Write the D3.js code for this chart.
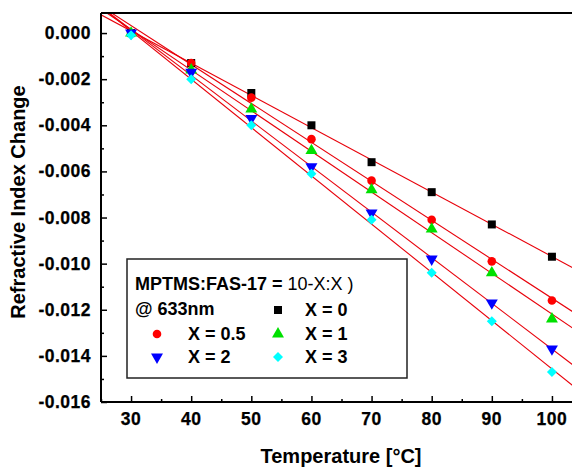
<!DOCTYPE html>
<html>
<head>
<meta charset="utf-8">
<script src="https://cdn.jsdelivr.net/npm/d3@7"></script>
<style>
  body { margin: 0; background: #fff; }
  svg { display: block; font-family: "Liberation Sans", Arial, sans-serif; }
  .tick-label { font-weight: bold; font-size: 17.5px; letter-spacing: 0.5px; stroke: #000; stroke-width: 0.25px; }
  .title { font-weight: bold; font-size: 20px; }
  .leg { font-weight: bold; font-size: 18px; }
</style>
</head>
<body>
<div class="container"></div>
<script>
var temps = [30, 40, 50, 60, 70, 80, 90, 100];

var seriesNames = ['X = 0', 'X = 0.5', 'X = 1', 'X = 2', 'X = 3'];
var seriesColors = ['#000000', '#ff0000', '#00e000', '#0000ff', '#00ffff'];
var seriesSymbols = ['square', 'circle', 'triangle', 'triangleDown', 'diamond'];

var x0Values = [0, -0.0013, -0.0026, -0.0040, -0.0056, -0.0069, -0.0083, -0.0097];
var x05Values = [0, -0.0013, -0.0028, -0.0046, -0.0064, -0.0081, -0.0099, -0.0116];
var x1Values = [0, -0.0016, -0.0033, -0.0051, -0.0068, -0.0085, -0.0104, -0.0124];
var x2Values = [0, -0.0017, -0.0037, -0.0058, -0.0078, -0.0098, -0.0117, -0.0137];
var x3Values = [-0.0001, -0.0020, -0.0040, -0.0061, -0.0081, -0.0104, -0.0125, -0.0147];

var allValues = [x0Values, x05Values, x1Values, x2Values, x3Values];

var xTicks = [30, 40, 50, 60, 70, 80, 90, 100];
var yTicks = [0, -0.002, -0.004, -0.006, -0.008, -0.010, -0.012, -0.014, -0.016];

(function () {
	var width = 572,
		height = 468,
		plotLeft = 101,
		plotTop = 13,
		plotRight = 582,
		plotBottom = 402;

	var svg = d3.select('.container')
		.append('svg')
		.attr('width', width)
		.attr('height', height);

	var x = d3.scaleLinear().domain([25, 105]).range([plotLeft, plotRight]);
	var y = d3.scaleLinear().domain([-0.016, 0.00087]).range([plotBottom, plotTop]);

	svg.append('clipPath')
		.attr('id', 'plot-clip')
		.append('rect')
		.attr('x', plotLeft)
		.attr('y', plotTop)
		.attr('width', plotRight - plotLeft)
		.attr('height', plotBottom - plotTop);

	// least squares fit for each series
	function fit(xs, ys) {
		var mx = d3.mean(xs),
			my = d3.mean(ys),
			num = 0,
			den = 0;

		xs.forEach(function (v, i) {
			num += (v - mx) * (ys[i] - my);
			den += (v - mx) * (v - mx);
		});

		var slope = num / den;
		return { slope: slope, intercept: my - slope * mx };
	}

	var plot = svg.append('g').attr('clip-path', 'url(#plot-clip)');

	allValues.forEach(function (vals) {
		var f = fit(temps, vals),
			ends = x.domain();

		plot.append('line')
			.attr('x1', x(ends[0]))
			.attr('y1', y(f.slope * ends[0] + f.intercept))
			.attr('x2', x(ends[1]))
			.attr('y2', y(f.slope * ends[1] + f.intercept))
			.attr('stroke', '#e8000a')
			.attr('stroke-width', 1.1);
	});

	var symbolTypes = {
		square: d3.symbolSquare,
		circle: d3.symbolCircle,
		triangle: d3.symbolTriangle,
		triangleDown: d3.symbolTriangle,
		diamond: d3.symbolSquare
	};

	var symbolSizes = {
		square: 64,
		circle: 58,
		triangle: 62,
		triangleDown: 62,
		diamond: 50
	};

	function marker(g, kind, color, cx, cy) {
		var path = d3.symbol().type(symbolTypes[kind]).size(symbolSizes[kind])();
		var tr = 'translate(' + cx + ',' + cy + ')';

		if (kind === 'triangleDown') {
			tr += ' rotate(180)';
		} else if (kind === 'diamond') {
			tr += ' rotate(45)';
		}

		g.append('path')
			.attr('d', path)
			.attr('transform', tr)
			.attr('fill', color);
	}

	allValues.forEach(function (vals, s) {
		var g = plot.append('g');

		vals.forEach(function (v, i) {
			marker(g, seriesSymbols[s], seriesColors[s], x(temps[i]), y(v));
		});
	});

	// axes
	var xAxis = svg.append('g')
		.attr('transform', 'translate(0,' + plotBottom + ')')
		.call(d3.axisBottom(x).tickValues(d3.range(25, 106, 5)).tickSize(-3).tickFormat(''));

	xAxis.selectAll('.tick line')
		.attr('y2', function (d) { return d % 10 === 0 ? -6 : -3; });

	var yAxis = svg.append('g')
		.attr('transform', 'translate(' + plotLeft + ',0)')
		.call(d3.axisLeft(y).tickValues(d3.range(-16, 1).map(function (d) { return d / 1000; })).tickSize(-3).tickFormat(''));

	yAxis.selectAll('.tick line')
		.attr('x2', function (d, i) { return i % 2 === 0 ? 6 : 3; });

	[xAxis, yAxis].forEach(function (a) {
		a.select('.domain').remove();
		a.selectAll('.tick line').attr('stroke', '#000').attr('stroke-width', 1.5);
	});

	svg.append('line')
		.attr('x1', plotLeft).attr('x2', width)
		.attr('y1', plotBottom).attr('y2', plotBottom)
		.attr('stroke', '#000').attr('stroke-width', 2);

	svg.append('line')
		.attr('x1', plotLeft).attr('x2', plotLeft)
		.attr('y1', plotTop).attr('y2', plotBottom)
		.attr('stroke', '#000').attr('stroke-width', 2);

	svg.append('line')
		.attr('x1', plotLeft).attr('x2', width)
		.attr('y1', plotTop).attr('y2', plotTop)
		.attr('stroke', '#000').attr('stroke-width', 2);

	svg.selectAll('.xlab')
		.data(xTicks)
		.enter().append('text')
		.classed('tick-label', true)
		.attr('x', function (d) { return x(d); })
		.attr('y', 425)
		.attr('text-anchor', 'middle')
		.text(function (d) { return d; });

	svg.selectAll('.ylab')
		.data(yTicks)
		.enter().append('text')
		.classed('tick-label', true)
		.attr('x', 91)
		.attr('y', function (d) { return y(d) + 6; })
		.attr('text-anchor', 'end')
		.text(function (d) { return d3.format('.3f')(d).replace('−', '-'); });

	svg.append('text')
		.classed('title', true)
		.attr('x', 341)
		.attr('y', 463)
		.attr('text-anchor', 'middle')
		.text('Temperature [°C]');

	svg.append('text')
		.classed('title', true)
		.attr('transform', 'translate(25,202) rotate(-90)')
		.attr('text-anchor', 'middle')
		.text('Refractive Index Change');

	// legend
	var legend = svg.append('g');

	legend.append('rect')
		.attr('x', 127)
		.attr('y', 259)
		.attr('width', 280)
		.attr('height', 119)
		.attr('fill', '#fff')
		.attr('stroke', '#222')
		.attr('stroke-width', 1.5);

	var head = legend.append('text')
		.classed('leg', true)
		.attr('x', 135)
		.attr('y', 290);

	head.append('tspan').text('MPTMS:FAS-17 = ');
	head.append('tspan').attr('font-weight', 'normal').text('10-X:X )');

	legend.append('text')
		.classed('leg', true)
		.attr('x', 135)
		.attr('y', 315)
		.text('@ 633nm');

	var legendSlots = [
		{ mx: 278, tx: 305, y: 310 },
		{ mx: 157, tx: 188, y: 334 },
		{ mx: 278, tx: 305, y: 334 },
		{ mx: 157, tx: 188, y: 357 },
		{ mx: 278, tx: 305, y: 357 }
	];

	legendSlots.forEach(function (slot, s) {
		marker(legend, seriesSymbols[s], seriesColors[s], slot.mx, slot.y);

		legend.append('text')
			.classed('leg', true)
			.attr('x', slot.tx)
			.attr('y', slot.y + 6)
			.text(seriesNames[s]);
	});
})();
</script>
</body>
</html>
